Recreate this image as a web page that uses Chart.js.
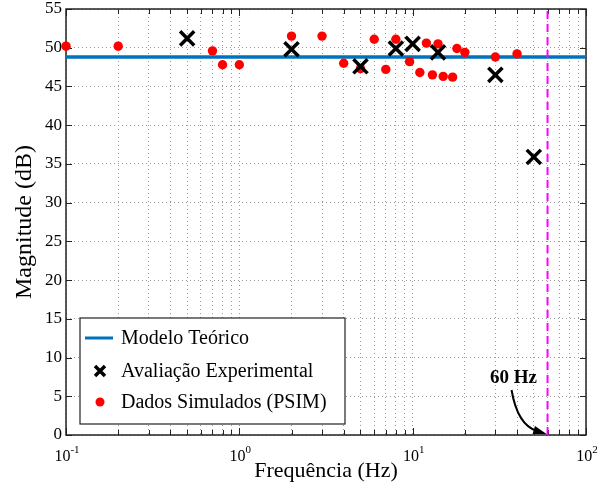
<!DOCTYPE html>
<html>
<head>
<meta charset="utf-8">
<script src="https://cdn.jsdelivr.net/npm/chart.js@4"></script>
<style>
  html, body { margin: 0; padding: 0; background: #fff; }
  #wrap { width: 609px; height: 485px; }
</style>
</head>
<body>
<div id="wrap"><canvas id="bode"></canvas></div>
<script>
// values
const modelFreq = [0.1, 100];
const modelMag = [48.8, 48.8];

const expFreq = [0.5, 2, 5, 8, 10, 14, 30, 50];
const expMag = [51.2, 49.8, 47.6, 49.9, 50.5, 49.4, 46.5, 35.9];

const simFreq = [0.1, 0.2, 0.7, 0.8, 1, 2, 3, 4, 5, 6, 7, 8, 9.6, 11, 12, 13, 14, 15, 17, 18, 20, 30, 40];
const simMag = [50.2, 50.2, 49.6, 47.8, 47.8, 51.5, 51.5, 48, 47.3, 51.1, 47.2, 51.1, 48.2, 46.8, 50.6, 46.5, 50.5, 46.3, 46.2, 49.9, 49.4, 48.8, 49.2];

const gridFreq = 60;            // marked grid frequency
const gridMag = [0, 55];

const xDecades = [0.1, 1, 10, 100];
const xExps = ['-1', '0', '1', '2'];
const labels = ['Modelo Teórico', 'Avaliação Experimental', 'Dados Simulados (PSIM)'];

const serif = 'Liberation Serif';

// minor log ticks 1..9 per decade
const xTicks = [];
xDecades.slice(0, -1).forEach(d => {
  for (let k = 1; k < 10; k++) xTicks.push(+(d * k).toPrecision(3));
});
xTicks.push(100);

const pts = (xs, ys) => xs.map((x, i) => ({ x: x, y: ys[i] }));

const extras = {
  id: 'extras',
  beforeDatasetsDraw(chart) {
    // frame + inward ticks under the markers
    const { ctx, chartArea: a, scales: { x, y } } = chart;
    ctx.save();
    ctx.strokeStyle = '#222';
    ctx.lineWidth = 1;
    ctx.beginPath();
    xTicks.forEach(v => {
      const px = Math.round(x.getPixelForValue(v)) + 0.5;
      const len = xDecades.includes(v) ? 7 : 5;
      ctx.moveTo(px, a.bottom); ctx.lineTo(px, a.bottom - len);
      ctx.moveTo(px, a.top); ctx.lineTo(px, a.top + len);
    });
    for (let v = 0; v <= 55; v += 5) {
      const py = Math.round(y.getPixelForValue(v)) + 0.5;
      ctx.moveTo(a.left, py); ctx.lineTo(a.left + 6, py);
      ctx.moveTo(a.right, py); ctx.lineTo(a.right - 6, py);
    }
    ctx.stroke();
    ctx.lineWidth = 1.5;
    ctx.strokeRect(a.left, a.top, a.right - a.left, a.bottom - a.top);
    ctx.restore();
  },
  afterDraw(chart) {
    const { ctx, chartArea: a, scales: { x, y } } = chart;
    ctx.save();

    // x tick labels 10^n
    ctx.fillStyle = '#000';
    ctx.textBaseline = 'alphabetic';
    xDecades.forEach((v, i) => {
      const px = x.getPixelForValue(v);
      ctx.font = '16px "' + serif + '"';
      const w1 = ctx.measureText('10').width;
      ctx.font = '11px "' + serif + '"';
      const w2 = ctx.measureText(xExps[i]).width;
      const sx = px - (w1 + w2) / 2 + 1;
      ctx.font = '16px "' + serif + '"';
      ctx.textAlign = 'left';
      ctx.fillText('10', sx, a.bottom + 26);
      ctx.font = '11px "' + serif + '"';
      ctx.fillText(xExps[i], sx + w1, a.bottom + 18);
    });

    // legend box
    const lx = 80, ly = 318, lw = 265, lh = 106;
    ctx.fillStyle = '#fff';
    ctx.fillRect(lx, ly, lw, lh);
    ctx.strokeStyle = '#222';
    ctx.lineWidth = 1.2;
    ctx.strokeRect(lx, ly, lw, lh);
    const rows = [338, 371, 402];
    ctx.font = '20px "' + serif + '"';
    ctx.fillStyle = '#000';
    ctx.textAlign = 'left';
    ctx.textBaseline = 'middle';
    rows.forEach((ry, i) => ctx.fillText(labels[i], 121, ry + 1));
    ctx.strokeStyle = '#0072BD';
    ctx.lineWidth = 3;
    ctx.beginPath(); ctx.moveTo(85, rows[0]); ctx.lineTo(113, rows[0]); ctx.stroke();
    ctx.strokeStyle = '#000';
    ctx.lineWidth = 3.5;
    ctx.beginPath();
    ctx.moveTo(95, rows[1] - 5); ctx.lineTo(105, rows[1] + 5);
    ctx.moveTo(105, rows[1] - 5); ctx.lineTo(95, rows[1] + 5);
    ctx.stroke();
    ctx.fillStyle = '#ff0000';
    ctx.beginPath(); ctx.arc(100, rows[2], 4.5, 0, Math.PI * 2); ctx.fill();

    // 60 Hz annotation
    const gx = x.getPixelForValue(gridFreq);
    const gy = y.getPixelForValue(0);
    ctx.fillStyle = '#000';
    ctx.font = 'bold 19px "' + serif + '"';
    ctx.textAlign = 'center';
    ctx.textBaseline = 'middle';
    ctx.fillText('60 Hz', gx - 34, gy - 57);
    const sx0 = gx - 36, sy0 = gy - 45;
    const ex = gx - 1, ey = gy - 1;
    const cx = gx - 30, cy = gy - 10;
    const ang = Math.atan2(ey - cy, ex - cx);
    ctx.strokeStyle = '#000';
    ctx.lineWidth = 2;
    ctx.beginPath();
    ctx.moveTo(sx0, sy0);
    ctx.quadraticCurveTo(cx, cy, ex - 10 * Math.cos(ang), ey - 10 * Math.sin(ang));
    ctx.stroke();
    ctx.beginPath();
    ctx.moveTo(ex, ey);
    ctx.lineTo(ex - 14 * Math.cos(ang - 0.3), ey - 14 * Math.sin(ang - 0.3));
    ctx.lineTo(ex - 14 * Math.cos(ang + 0.3), ey - 14 * Math.sin(ang + 0.3));
    ctx.closePath();
    ctx.fill();

    ctx.restore();
  }
};

const gridStyle = { color: '#9a9a9a', lineWidth: 1, drawTicks: false };
const borderStyle = { display: false, dash: [1, 3] };

new Chart(document.getElementById('bode'), {
  type: 'scatter',
  data: {
    datasets: [
      {
        label: labels[0],
        data: pts(modelFreq, modelMag),
        showLine: true,
        borderColor: '#0072BD',
        borderWidth: 3.5,
        pointRadius: 0,
        order: 4
      },
      {
        label: '60 Hz',
        data: pts([gridFreq, gridFreq], gridMag),
        showLine: true,
        borderColor: '#ff00ff',
        borderWidth: 2,
        borderDash: [8, 5],
        pointRadius: 0,
        order: 3
      },
      {
        label: labels[2],
        data: pts(simFreq, simMag),
        pointStyle: 'circle',
        pointRadius: 4.7,
        backgroundColor: '#ff0000',
        borderColor: '#ff0000',
        borderWidth: 0,
        clip: false,
        order: 2
      },
      {
        label: labels[1],
        data: pts(expFreq, expMag),
        pointStyle: 'crossRot',
        pointRadius: 10,
        borderColor: '#000',
        borderWidth: 3.5,
        order: 1
      }
    ]
  },
  options: {
    responsive: true,
    maintainAspectRatio: false,
    animation: false,
    layout: { autoPadding: false, padding: { top: 9, right: 23, left: 0, bottom: 0 } },
    plugins: { legend: { display: false }, tooltip: { enabled: false } },
    scales: {
      x: {
        type: 'logarithmic',
        min: 0.1,
        max: 100,
        afterBuildTicks: s => { s.ticks = xTicks.map(v => ({ value: v })); },
        afterFit: s => { s.height = 50; s.paddingLeft = 0; s.paddingRight = 0; },
        ticks: { display: false },
        grid: gridStyle,
        border: borderStyle,
        title: {
          display: true,
          text: 'Frequência (Hz)',
          color: '#000',
          font: { family: serif, size: 22 },
          padding: { top: 0, bottom: 1 }
        }
      },
      y: {
        min: 0,
        max: 55,
        afterFit: s => { s.width = 66; s.paddingTop = 0; s.paddingBottom = 0; },
        ticks: {
          stepSize: 5,
          color: '#000',
          padding: 4,
          font: { family: serif, size: 17 }
        },
        grid: gridStyle,
        border: borderStyle,
        title: {
          display: true,
          text: 'Magnitude (dB)',
          color: '#000',
          font: { family: serif, size: 24 },
          padding: { top: 10, bottom: 0 }
        }
      }
    }
  },
  plugins: [extras]
});
</script>
</body>
</html>
